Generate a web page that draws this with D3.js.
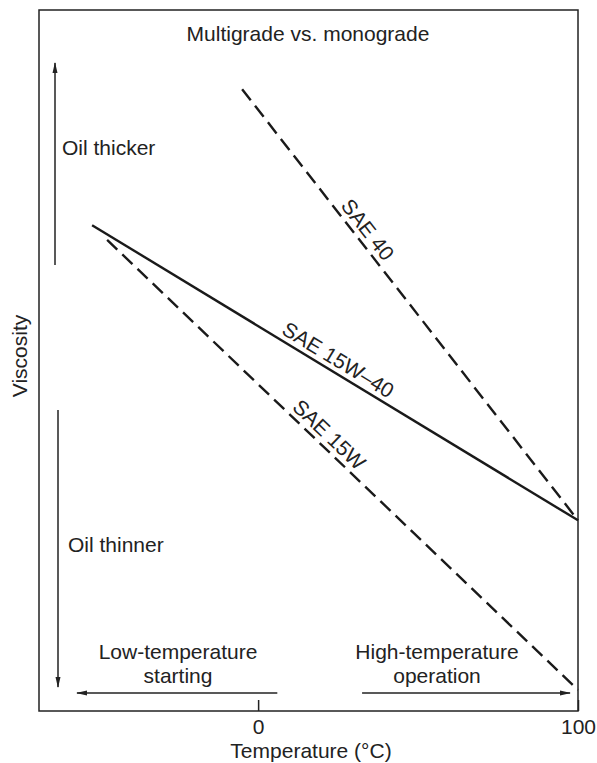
<!DOCTYPE html>
<html>
<head>
<meta charset="utf-8">
<script src="https://cdn.jsdelivr.net/npm/d3@7/dist/d3.min.js"></script>
<style>
  body { margin: 0; background: #fff; }
  text { font-family: "Liberation Sans", Arial, Helvetica, sans-serif; fill: #222; }
</style>
</head>
<body>
<script>
"use strict";

// temperature (deg C) vs relative viscosity (0..100, arbitrary)
var tempTicks = [0, 100];
var seriesNames = ["SAE 40", "SAE 15W\u201340", "SAE 15W"];
var sae40 = [[-5, 88.7], [100, 27.2]];
var sae15w40 = [[-51.9, 69.3], [100, 27.2]];
var sae15w = [[-47.2, 67.2], [100, 3.0]];
var seriesValues = [sae40, sae15w40, sae15w];
var seriesDashed = [true, false, true];

var width = 597, height = 763;
var margin = {top: 10, right: 19, bottom: 52, left: 39};

var svg = d3.select("body").append("svg")
    .attr("width", width)
    .attr("height", height);

var x = d3.scaleLinear().domain([-68.5, 100]).range([margin.left, width - margin.right]);
var y = d3.scaleLinear().domain([0, 100]).range([height - margin.bottom, margin.top]);

var defs = svg.append("defs");
defs.append("marker")
    .attr("id", "head")
    .attr("viewBox", "0 0 11 6")
    .attr("refX", 10).attr("refY", 3)
    .attr("markerWidth", 11).attr("markerHeight", 6)
    .attr("markerUnits", "userSpaceOnUse")
    .attr("orient", "auto")
  .append("path")
    .attr("d", "M0,0.5 L11,3 L0,5.5 Z")
    .attr("fill", "#222");

// frame
svg.append("rect")
    .attr("x", x.range()[0]).attr("y", y.range()[1])
    .attr("width", x.range()[1] - x.range()[0])
    .attr("height", y.range()[0] - y.range()[1])
    .attr("fill", "none")
    .attr("stroke", "#222")
    .attr("stroke-width", 1.5);

// x axis, ticks pointing inside
var xAxis = svg.append("g")
    .attr("transform", "translate(0," + y.range()[0] + ")")
    .call(d3.axisBottom(x).tickValues(tempTicks).tickSize(-11).tickPadding(8));
xAxis.select(".domain").remove();
xAxis.selectAll("line").attr("stroke", "#222").attr("stroke-width", 1.5);
xAxis.selectAll("text")
    .style("font-family", '"Liberation Sans", Arial, sans-serif')
    .style("font-size", "21px")
    .attr("fill", "#222");

svg.append("text")
    .attr("x", 311).attr("y", 758)
    .attr("text-anchor", "middle")
    .style("font-size", "21px")
    .text("Temperature (\u00b0C)");

svg.append("text")
    .attr("transform", "translate(27,356) rotate(-90)")
    .attr("text-anchor", "middle")
    .style("font-size", "21px")
    .text("Viscosity");

svg.append("text")
    .attr("x", 308).attr("y", 41)
    .attr("text-anchor", "middle")
    .style("font-size", "21px")
    .text("Multigrade vs. monograde");

// series lines
var line = d3.line()
    .x(function(d) { return x(d[0]); })
    .y(function(d) { return y(d[1]); });

svg.selectAll(".series")
    .data(seriesValues)
    .enter().append("path")
    .attr("class", "series")
    .attr("d", line)
    .attr("fill", "none")
    .attr("stroke", "#1a1a1a")
    .attr("stroke-width", 2.4)
    .attr("stroke-dasharray", function(d, i) { return seriesDashed[i] ? "14,7" : null; });

// labels along each line (fraction along the line, offset to the upper right)
var labelAt = [0.344, 0.493, 0.453];
var labelOffset = 13;
seriesValues.forEach(function(d, i) {
    var x0 = x(d[0][0]), y0 = y(d[0][1]);
    var x1 = x(d[d.length - 1][0]), y1 = y(d[d.length - 1][1]);
    var dx = x1 - x0, dy = y1 - y0, len = Math.sqrt(dx * dx + dy * dy);
    var t = labelAt[i];
    var cx = x0 + dx * t + labelOffset * dy / len;
    var cy = y0 + dy * t - labelOffset * dx / len;
    var ang = Math.atan2(dy, dx) * 180 / Math.PI;
    svg.append("text")
        .attr("transform", "translate(" + cx + "," + cy + ") rotate(" + ang + ")")
        .attr("text-anchor", "middle")
        .attr("dy", "0.36em")
        .style("font-size", "21px")
        .text(seriesNames[i]);
});

// direction arrows and notes
function arrow(xa, ya, xb, yb) {
    svg.append("line")
        .attr("x1", xa).attr("y1", ya)
        .attr("x2", xb).attr("y2", yb)
        .attr("stroke", "#222")
        .attr("stroke-width", 1.5)
        .attr("marker-end", "url(#head)");
}

arrow(55, 265, 55, 63);
arrow(58, 410, 58, 687);
arrow(x(6), 693, 77, 693);
arrow(x(32.5), 693, 570, 693);

function note(tx, ty, lines, anchor) {
    var t = svg.append("text")
        .attr("x", tx).attr("y", ty)
        .attr("text-anchor", anchor)
        .style("font-size", "21px");
    lines.forEach(function(s, k) {
        t.append("tspan").attr("x", tx).attr("dy", k ? 24 : 0).text(s);
    });
}

note(62, 155, ["Oil thicker"], "start");
note(68, 552, ["Oil thinner"], "start");
note(178, 659, ["Low-temperature", "starting"], "middle");
note(437, 659, ["High-temperature", "operation"], "middle");
</script>
</body>
</html>
